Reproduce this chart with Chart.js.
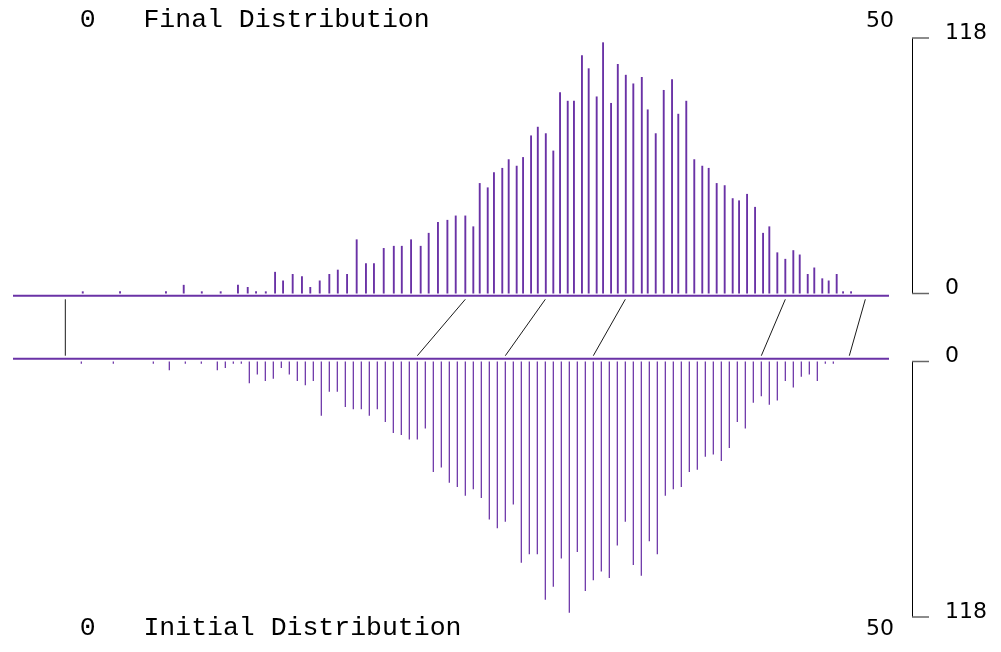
<!DOCTYPE html>
<html>
<head>
<meta charset="utf-8">
<title>Final / Initial Distribution</title>
<script src="https://cdn.jsdelivr.net/npm/chart.js@4/dist/chart.umd.min.js"></script>
<style>
  body { margin: 0; background: #fff; }
  #wrap { width: 1001px; height: 652px; }
</style>
</head>
<body>
<div id="wrap"><canvas id="chart" width="1001" height="652"></canvas></div>
<script>
// Contagens de cada valor (iguais nas duas distribuicoes)
const counts = [1, 1, 1, 4, 1, 1, 4, 3, 1, 1,
  10, 6, 9, 8, 3, 6, 9, 11, 9, 25,
  14, 14, 21, 22, 22, 25, 22, 28, 33, 34,
  36, 36, 31, 51, 49, 56, 58, 62, 59, 63,
  73, 77, 74, 66, 93, 89, 89, 110, 104, 91,
  116, 88, 106, 101, 97, 100, 85, 74, 94, 99,
  83, 89, 62, 59, 58, 51, 50, 44, 43, 46,
  40, 28, 31, 19, 16, 20, 18, 9, 12, 7,
  6, 9, 1, 1];

// Posicoes na distribuicao inicial (embaixo)
const initialValues = [0, 2, 4.5, 5.5, 6.5, 7.5, 8.5, 9, 9.5, 10,
  10.5, 11, 11.5, 12, 12.5, 13, 13.5, 14, 14.5, 15,
  15.5, 16, 16.5, 17, 17.5, 18, 18.5, 19, 19.5, 20,
  20.5, 21, 21.5, 22, 22.5, 23, 23.5, 24, 24.5, 25,
  25.5, 26, 26.5, 27, 27.5, 28, 28.5, 29, 29.5, 30,
  30.5, 31, 31.5, 32, 32.5, 33, 33.5, 34, 34.5, 35,
  35.5, 36, 36.5, 37, 37.5, 38, 38.5, 39, 39.5, 40,
  40.5, 41, 41.5, 42, 42.5, 43, 43.5, 44, 44.5, 45,
  45.5, 46, 46.5, 47];

// Posicoes na distribuicao final (em cima)
const finalValues = [0.09, 2.42, 5.29, 6.4, 7.53, 8.71, 9.79, 10.4, 10.92, 11.53,
  12.11, 12.61, 13.21, 13.79, 14.31, 14.9, 15.5, 16.03, 16.61, 17.21,
  17.79, 18.29, 18.9, 19.53, 20.03, 20.61, 21.21, 21.71, 22.29, 22.88,
  23.4, 24.0, 24.5, 24.9, 25.4, 25.79, 26.31, 26.71, 27.21, 27.61,
  28.11, 28.53, 29.03, 29.5, 29.92, 30.4, 30.79, 31.29, 31.71, 32.21,
  32.61, 33.11, 33.53, 34.03, 34.5, 35.03, 35.4, 35.9, 36.4, 36.92,
  37.31, 37.81, 38.31, 38.81, 39.21, 39.71, 40.21, 40.71, 41.11, 41.61,
  42.11, 42.61, 43.0, 43.5, 44.0, 44.5, 44.9, 45.4, 45.81, 46.31,
  46.71, 47.21, 47.61, 48.11];

// Linhas que ligam valor inicial -> valor final
const linkFrom = [-1, 21, 26.5, 32, 42.5, 48];
const linkTo = [-1, 24, 29, 34, 44, 49];

// Textos e marcas dos eixos
const xRangeLabels = [0, 50];
const countTicks = [0, 118];
const titleTop = 'Final Distribution';
const titleBottom = 'Initial Distribution';

const purple = '#6a32a6';
const xMin = -4.27, xMax = 50.48;

const datasets = [];

// Barras de cima (final)
datasets.push({
    type: 'bar',
    data: finalValues.map((v, i) => ({ x: v, y: counts[i] })),
    yAxisID: 'yTop',
    backgroundColor: purple,
    barThickness: 1.9,
    grouped: false,
    inflateAmount: 0,
    borderWidth: 0
});

// Barras de baixo (inicial)
datasets.push({
    type: 'bar',
    data: initialValues.map((v, i) => ({ x: v, y: counts[i] })),
    yAxisID: 'yBot',
    backgroundColor: purple,
    barThickness: 1.25,
    grouped: false,
    inflateAmount: 0,
    borderWidth: 0
});

// Linhas de base
datasets.push({
    type: 'line',
    data: [{ x: xMin, y: -1.06 }, { x: xMax, y: -1.06 }],
    yAxisID: 'yTop',
    borderColor: purple,
    borderWidth: 2,
    pointRadius: 0
});
datasets.push({
    type: 'line',
    data: [{ x: xMin, y: -1.25 }, { x: xMax, y: -1.25 }],
    yAxisID: 'yBot',
    borderColor: purple,
    borderWidth: 2,
    pointRadius: 0
});

// Ligacoes
linkFrom.forEach((from, i) => {
    datasets.push({
        type: 'line',
        data: [{ x: from, y: -28.73 }, { x: linkTo[i], y: -2.68 }],
        yAxisID: 'yTop',
        borderColor: '#1a1a1a',
        borderWidth: 1,
        pointRadius: 0
    });
});

// Textos, colchetes e rotulos do lado direito
const decor = {
    id: 'decor',
    afterDraw(chart) {
        const ctx = chart.ctx;
        const x = chart.scales.x;
        const x0 = x.getPixelForValue(xRangeLabels[0]) - 1.5;
        const x50 = x.getPixelForValue(49.92);
        ctx.save();
        ctx.fillStyle = '#000';
        ctx.textBaseline = 'alphabetic';

        ctx.font = '26.5px "Liberation Mono", monospace';
        ctx.textAlign = 'left';
        ctx.fillText(xRangeLabels[0] + '   ' + titleTop, x0, 27.3);
        ctx.fillText(xRangeLabels[0] + '   ' + titleBottom, x0, 635);

        ctx.font = '22px "DejaVu Sans", sans-serif';
        ctx.textAlign = 'center';
        ctx.fillText(String(xRangeLabels[1]), x50, 27.3);
        ctx.fillText(String(xRangeLabels[1]), x50, 635);

        [chart.scales.yTop, chart.scales.yBot].forEach(s => {
            const a = s.getPixelForValue(countTicks[0]);
            const b = s.getPixelForValue(countTicks[1]);
            ctx.strokeStyle = '#000';
            ctx.lineWidth = 1;
            ctx.beginPath();
            ctx.moveTo(912.5, a);
            ctx.lineTo(912.5, b);
            ctx.stroke();
            ctx.strokeStyle = '#666';
            ctx.lineWidth = 1.5;
            ctx.textAlign = 'left';
            countTicks.forEach(t => {
                const y = s.getPixelForValue(t);
                ctx.beginPath();
                ctx.moveTo(912, y);
                ctx.lineTo(929, y);
                ctx.stroke();
                ctx.fillText(String(t), 945, y + 0.5);
            });
        });
        ctx.restore();
    }
};

new Chart(document.getElementById('chart'), {
    data: { datasets: datasets },
    options: {
        responsive: false,
        animation: false,
        layout: { padding: { left: 13, right: 112, top: 38, bottom: 35 } },
        plugins: { legend: { display: false }, tooltip: { enabled: false } },
        scales: {
            x: { type: 'linear', min: xMin, max: xMax, offset: false, display: false },
            yTop: { type: 'linear', min: -149.4, max: 118, display: false },
            yBot: { type: 'linear', min: -149.4, max: 118, reverse: true, display: false }
        }
    },
    plugins: [decor]
});
</script>
</body>
</html>
